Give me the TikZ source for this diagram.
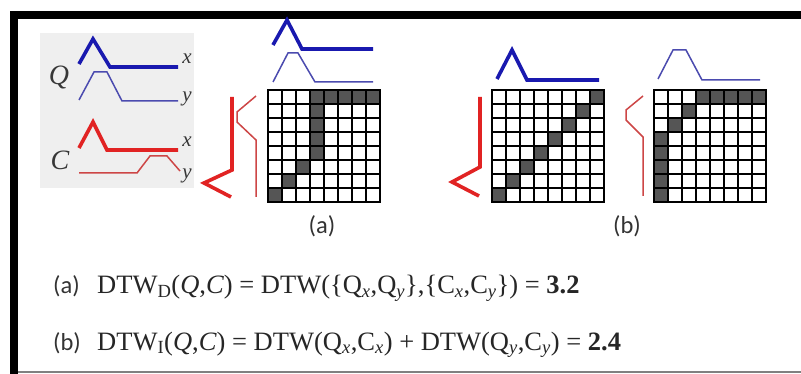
\documentclass[tikz,border=0pt]{standalone}
\usepackage{fontspec}
\setmainfont{Liberation Serif}
\newfontfamily\labelfont{Carlito}
\definecolor{qthick}{RGB}{25,25,175}
\definecolor{qthin}{RGB}{75,75,175}
\definecolor{cthick}{RGB}{225,35,35}
\definecolor{cthin}{RGB}{205,70,70}
\definecolor{panel}{RGB}{239,239,239}
\definecolor{cellfill}{RGB}{85,85,85}
\definecolor{lbl}{RGB}{55,55,55}
\newcommand{\dtwgrid}[3]{%
  \begin{scope}[shift={(#1,#2)}]
    \foreach \rr in {0,...,7} {%
      \foreach \cc in {0,...,7} {%
        \draw[gridline] ({\cc*14},{\rr*14}) rectangle ++(14,14);}}
    \foreach \rr/\cc in {#3} {%
      \filldraw[cellfill,draw=black,line width=2pt] ({\cc*14},{\rr*14}) rectangle ++(14,14);}
    \draw[gridframe] (0,0) rectangle (112,112);
  \end{scope}}
\begin{document}
\begin{tikzpicture}[x=1pt,y=-1pt,
  thickblue/.style={qthick,line width=3.6pt,line join=miter},
  thinblue/.style={qthin,line width=1.5pt,line join=miter},
  thickred/.style={cthick,line width=3.6pt,line join=miter},
  thinred/.style={cthin,line width=1.5pt,line join=miter},
  gridline/.style={draw=black,fill=white,line width=2pt},
  gridframe/.style={black,line width=2.6pt},
  lab/.style={font=\labelfont\fontsize{24.5}{28}\selectfont,text=black!80,inner sep=0pt},
  formula/.style={font=\fontsize{26.5}{30}\selectfont,text=black!85,inner sep=0pt},
  series/.style={font=\itshape\fontsize{28}{30}\selectfont,text=lbl,inner sep=0pt},
  axis/.style={font=\itshape\fontsize{21}{24}\selectfont,text=lbl,inner sep=0pt}]
\useasboundingbox (0,0) rectangle (801,374);
\fill[white] (0,0) rectangle (801,374);
% frame
\fill[black] (10,11) rectangle (801,19);
\fill[black] (10,11) rectangle (18,374);
\draw[gray,line width=2pt] (18,372) -- (801,372);
% legend panel
\fill[panel] (40,33) rectangle (194,188);
\node[series] (Q) at (59,78) {Q};
\node[series] (C) at (60,160) {C};
\draw[thickblue] (79,64) -- (93,39) -- (110,67) -- (178,67);
\draw[thinblue] (79,100) -- (94,72) -- (107,72) -- (122,101) -- (178,101);
\draw[thickred] (79,148) -- (93,122) -- (107,150) -- (178,150);
\draw[thinred] (79,173) -- (137,173) -- (150,156) -- (167,156) -- (180,171);
\node[axis] (qx) at (187,59) {x};
\node[axis] (qy) at (187,99) {y};
\node[axis] (cx) at (187,142) {x};
\node[axis] (cy) at (187,176) {y};
% (a) dependent
\draw[thickblue] (273,45) -- (287,20) -- (302,49) -- (373,49);
\draw[thinblue] (273,82) -- (288,53) -- (298,53) -- (315,82) -- (373,82);
\draw[thickred] (232,97) -- (232,170) -- (204,183) -- (231,197);
\draw[thinred] (256,96) -- (237,112) -- (237,122) -- (256,140) -- (256,197);
\dtwgrid{268}{90}{0/3,0/4,0/5,0/6,0/7,1/3,2/3,3/3,4/3,5/2,6/1,7/0}
% (b) independent
\draw[thickblue] (497,79) -- (512,50) -- (527,80) -- (599,80);
\draw[thickred] (480,97) -- (480,167) -- (452,182) -- (479,196);
\dtwgrid{492}{90}{0/7,1/6,2/5,3/4,4/3,5/2,6/1,7/0}
\draw[thinblue] (658,79) -- (673,50) -- (686,50) -- (702,80) -- (760,80);
\draw[thinred] (643,96) -- (626,110) -- (626,120) -- (643,137) -- (643,196);
\dtwgrid{654}{90}{0/3,0/4,0/5,0/6,0/7,1/2,2/1,3/0,4/0,5/0,6/0,7/0}
% captions
\node[lab,anchor=base] (capa) at (322,234) {(a)};
\node[lab,anchor=base] (capb) at (627,234) {(b)};
% formulas
\node[lab,anchor=base west] (fa) at (53,294) {(a)};
\node[formula,anchor=base west] (ea) at (97,294) {DTW\textsubscript{D}(\textit{Q},\textit{C}) = DTW(\{Q\textsubscript{\textit{x}},Q\textsubscript{\textit{y}}\},\{C\textsubscript{\textit{x}},C\textsubscript{\textit{y}}\}) = \textbf{3.2}};
\node[lab,anchor=base west] (fb) at (53,350) {(b)};
\node[formula,anchor=base west] (eb) at (97,350) {DTW\textsubscript{I}(\textit{Q},\textit{C}) = DTW(Q\textsubscript{\textit{x}},C\textsubscript{\textit{x}}) + DTW(Q\textsubscript{\textit{y}},C\textsubscript{\textit{y}}) = \textbf{2.4}};
\end{tikzpicture}
\end{document}
